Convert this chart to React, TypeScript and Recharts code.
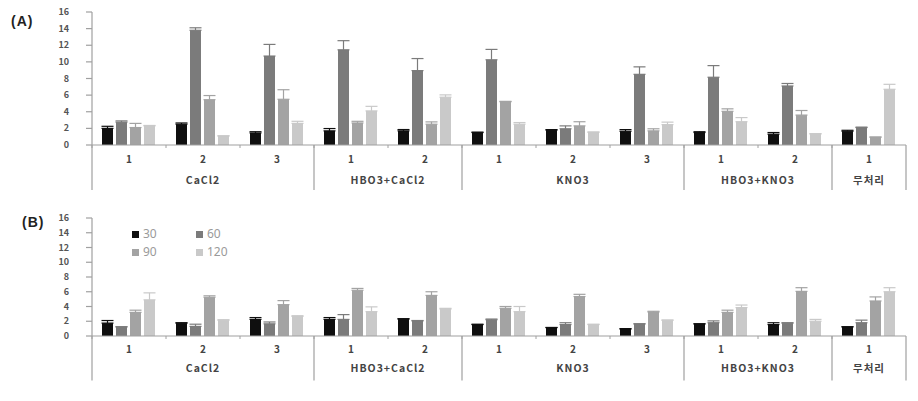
import React from "react";
import { BarChart, Bar, XAxis, YAxis, ErrorBar } from "recharts";

// sub-category (replicate) labels and treatment groups
const subLabels = ["1", "2", "3", "1", "2", "1", "2", "3", "1", "2", "1"];
const groupLabels = [
    "CaCl2", "CaCl2", "CaCl2",
    "HBO3+CaCl2", "HBO3+CaCl2",
    "KNO3", "KNO3", "KNO3",
    "HBO3+KNO3", "HBO3+KNO3",
    "무처리",
];
const yTicks = [0, 2, 4, 6, 8, 10, 12, 14, 16];
const seriesNames = ["30", "60", "90", "120"];
const seriesColors = ["#0f0f0f", "#7b7b7b", "#a3a3a3", "#c9c9c9"];

// panel (A)
const a30 = [2.0, 2.5, 1.45, 1.7, 1.7, 1.5, 1.8, 1.65, 1.5, 1.3, 1.65];
const a30Err = [0.25, 0.15, 0.15, 0.28, 0.16, 0.05, 0.05, 0.2, 0.1, 0.2, 0.12];
const a60 = [2.75, 13.8, 10.7, 11.45, 8.95, 10.25, 1.95, 8.5, 8.15, 7.1, 2.1];
const a60Err = [0.15, 0.3, 1.4, 1.1, 1.45, 1.25, 0.35, 0.9, 1.4, 0.3, 0.05];
const a90 = [2.1, 5.45, 5.5, 2.65, 2.5, 5.2, 2.3, 1.7, 4.05, 3.6, 0.95];
const a90Err = [0.5, 0.5, 1.15, 0.2, 0.28, 0.05, 0.5, 0.25, 0.3, 0.55, 0];
const a120 = [2.3, 1.1, 2.6, 4.1, 5.75, 2.5, 1.55, 2.45, 2.8, 1.35, 6.7];
const a120Err = [0.05, 0, 0.25, 0.55, 0.28, 0.2, 0, 0.3, 0.5, 0, 0.6];

// panel (B)
const b30 = [1.75, 1.75, 2.25, 2.25, 2.3, 1.55, 1.15, 0.95, 1.65, 1.55, 1.25];
const b30Err = [0.35, 0.05, 0.25, 0.25, 0.05, 0.05, 0, 0.05, 0, 0.25, 0];
const b60 = [1.25, 1.3, 1.65, 2.25, 2.05, 2.2, 1.55, 1.65, 1.8, 1.75, 1.8];
const b60Err = [0, 0.3, 0.25, 0.65, 0.05, 0.1, 0.25, 0, 0.25, 0.05, 0.35];
const b90 = [3.2, 5.25, 4.25, 6.2, 5.5, 3.75, 5.35, 3.25, 3.2, 6.05, 4.75];
const b90Err = [0.3, 0.2, 0.55, 0.25, 0.5, 0.25, 0.3, 0.1, 0.3, 0.5, 0.55];
const b120 = [4.9, 2.15, 2.65, 3.3, 3.65, 3.3, 1.55, 2.15, 3.85, 2.0, 6.0];
const b120Err = [0.95, 0.05, 0.1, 0.65, 0.1, 0.7, 0.05, 0, 0.35, 0.25, 0.55];

const buildRows = (vals: number[][], errs: number[][]) =>
    subLabels.map((s, i) => {
        const row: any = { key: `${groupLabels[i]}-${s}-${i}`, sub: s, group: groupLabels[i] };
        seriesNames.forEach((n, k) => {
            row["s" + n] = vals[k][i];
            row["e" + n] = [0, errs[k][i]];
        });
        return row;
    });

const dataA = buildRows([a30, a60, a90, a120], [a30Err, a60Err, a90Err, a120Err]);
const dataB = buildRows([b30, b60, b90, b120], [b30Err, b60Err, b90Err, b120Err]);

const axisColor = "#a0a0a0";
const labelFont = "'Noto Sans CJK KR', 'Noto Sans', sans-serif";

function YTick(props: any) {
    const { x, y, payload } = props;
    return (
        <text x={x} y={y} dy={3} textAnchor="end" fontSize={9} fontWeight="bold" fill="#555" fontFamily={labelFont}>
            {payload.value}
        </text>
    );
}

function makeXTick(subDy: number, groupDy: number, lineLen: number) {
    return function XTick(props: any) {
        const { x, y, payload } = props;
        const i = payload.index ?? 0;
        const half = typeof payload.offset === "number" && payload.offset > 0 ? payload.offset : 37;
        const isStart = i === 0 || groupLabels[i] !== groupLabels[i - 1];
        const isLast = i === subLabels.length - 1;
        let n = 1;
        while (i + n < groupLabels.length && groupLabels[i + n] === groupLabels[i]) n++;
        return (
            <g>
                <line x1={x - half} y1={y} x2={x - half} y2={y + 3} stroke={axisColor} />
                {isStart && (
                    <line x1={x - half} y1={y} x2={x - half} y2={y + lineLen} stroke={axisColor} strokeWidth={1.2} />
                )}
                {isLast && (
                    <line x1={x + half} y1={y} x2={x + half} y2={y + lineLen} stroke={axisColor} strokeWidth={1.2} />
                )}
                <text x={x} y={y + subDy} textAnchor="middle" dominantBaseline="middle" fontSize={10}
                    fontWeight="bold" fill="#444" fontFamily={labelFont}>
                    {subLabels[i]}
                </text>
                {isStart && (
                    <text x={x + (n - 1) * half} y={y + groupDy} textAnchor="middle" dominantBaseline="middle"
                        fontSize={10.5} fontWeight="bold" fill="#444" letterSpacing={1} fontFamily={labelFont}>
                        {groupLabels[i]}
                    </text>
                )}
            </g>
        );
    };
}

function LegendBox() {
    return (
        <div style={{ position: "absolute", left: 132, top: 226, display: "grid", gridTemplateColumns: "64px 64px", rowGap: 2 }}>
            {seriesNames.map((n, k) => (
                <div key={n} style={{ display: "flex", alignItems: "center", fontFamily: "'Noto Sans', sans-serif", fontSize: 12, color: "#9a9a9a", lineHeight: "16px" }}>
                    <span style={{ display: "inline-block", width: 7, height: 7, background: seriesColors[k], marginRight: 4 }} />
                    {n}
                </div>
            ))}
        </div>
    );
}

function Panel(props: { data: any[]; height: number; top: number; xHeight: number; subDy: number; groupDy: number; lineLen: number }) {
    const { data, height, top, xHeight, subDy, groupDy, lineLen } = props;
    return (
        <BarChart width={918} height={height} data={data} barGap={3} barCategoryGap={10}
            margin={{ top, right: 12, bottom: 0, left: 32 }}>
            <XAxis dataKey="key" interval={0} tickSize={0} tickMargin={0} tickLine={false}
                stroke={axisColor} strokeWidth={1.2} height={xHeight} tick={makeXTick(subDy, groupDy, lineLen)} />
            <YAxis domain={[0, 16]} ticks={yTicks} interval={0} width={60} tickSize={6} tickMargin={17}
                stroke={axisColor} strokeWidth={1.2} tick={<YTick />} />
            {seriesNames.map((n, k) => (
                <Bar key={n} dataKey={"s" + n} name={n} fill={seriesColors[k]} isAnimationActive={false}>
                    <ErrorBar dataKey={"e" + n} direction="y" width={6} stroke={seriesColors[k]} strokeWidth={1.2} />
                </Bar>
            ))}
        </BarChart>
    );
}

export default function App() {
    return (
        <div style={{ position: "absolute", left: 0, top: 0, width: 918, height: 401, background: "#fff" }}>
            <div style={{ position: "absolute", left: 0, top: 0 }}>
                <Panel data={dataA} height={200} top={12} xHeight={55} subDy={15} groupDy={36} lineLen={45} />
            </div>
            <div style={{ position: "absolute", left: 0, top: 200 }}>
                <Panel data={dataB} height={201} top={18} xHeight={65} subDy={14.5} groupDy={33.5} lineLen={44.5} />
            </div>
            <LegendBox />
            <div style={{ position: "absolute", left: 11, top: 13, fontFamily: "'Liberation Sans', Arial, sans-serif", fontWeight: "bold", fontSize: 14, letterSpacing: 1, color: "#222" }}>
                (A)
            </div>
            <div style={{ position: "absolute", left: 22, top: 214, fontFamily: "'Liberation Sans', Arial, sans-serif", fontWeight: "bold", fontSize: 14, letterSpacing: 1, color: "#222" }}>
                (B)
            </div>
        </div>
    );
}
